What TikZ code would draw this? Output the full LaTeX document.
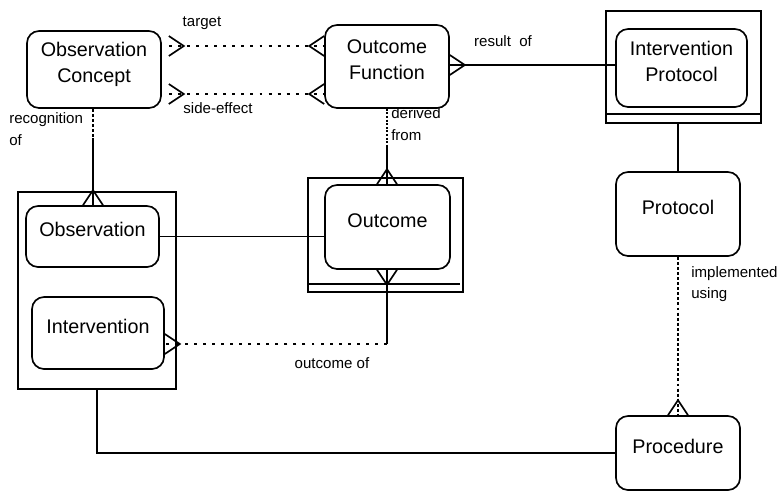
\documentclass[tikz,border=0pt]{standalone}
\usepackage{fontspec}
\setmainfont{Liberation Sans}
\usetikzlibrary{positioning,calc,decorations.markings}

\begin{document}
\begin{tikzpicture}[
  x=0.75pt,y=-0.75pt,
  font=\fontsize{11.3}{16}\selectfont,
  entity/.style={draw,line width=1.25pt,rounded corners=9pt,align=center,
    font=\fontsize{14.8}{19.5}\selectfont,inner sep=0pt,
    text height=6pt,text depth=6pt},
  twoline/.style={text height=25.6pt},
  frame/.style={draw,line width=1.25pt,inner sep=0pt},
  rel/.style={line width=1.25pt},
  dotrel/.style={line width=1.8pt,dash pattern=on 2.2pt off 4.6pt},
  finedot/.style={line width=0.8pt,dash pattern=on 1.5pt off 1.2pt},
  densedot/.style={line width=2pt,dash pattern=on 2.2pt off 1.6pt},
  crowstart/.style={postaction={decorate,decoration={markings,
    mark=at position 0 with {\draw[solid,line width=1.25pt] (0,10) -- (15,0) -- (0,-10);}}}},
  crowend/.style={postaction={decorate,decoration={markings,
    mark=at position 1 with {\draw[solid,line width=1.25pt] (0,10) -- (-15,0) -- (0,-10);}}}},
  lbl/.style={align=left,inner sep=0pt}
]
  \useasboundingbox (0,0) rectangle (779,500);

  % entities with a frame round them
  \node[frame,minimum width=116.25pt,minimum height=84pt] (ipouter) at (683.5,67) {};
  \node[frame,minimum width=118.5pt,minimum height=147.75pt] (obsouter) at (97,290.5) {};
  \node[frame,minimum width=116.25pt,minimum height=85.5pt] (outouter) at (385.5,235) {};
  \draw[rel] ($(ipouter.south west)+(0,-10)$) -- ($(ipouter.south east)+(-2,-10)$);
  \draw[rel] ($(outouter.south west)+(0,-9)$) -- ($(outouter.south east)+(-4,-9)$);

  % entities
  \node[entity,twoline,minimum width=100.5pt,minimum height=57.75pt] (obsconcept) at (94,69.5) {Observation\\Concept};
  \node[entity,twoline,minimum width=93pt,minimum height=62.25pt] (outfunc) at (387,66.5) {Outcome\\Function};
  \node[entity,twoline,minimum width=98.25pt,minimum height=58.5pt] (ipinner) at (681.5,68) {Intervention\\Protocol};
  \node[entity,minimum width=99.75pt,minimum height=45.75pt] (observation) at (92.5,236.5) {Observation};
  \node[entity,minimum width=99pt,minimum height=54pt] (intervention) at (98,333) {Intervention};
  \node[entity,minimum width=93.75pt,minimum height=63pt] (outcome) at (387.5,227) {Outcome};
  \node[entity,minimum width=93pt,minimum height=63pt] (protocol) at (678,214) {Protocol};
  \node[entity,minimum width=93pt,minimum height=55.5pt] (procedure) at (678,453) {Procedure};

  % relationships
  \coordinate (ty) at (0,46);
  \coordinate (sy) at (0,94);
  \coordinate (ry) at (0,65);
  \coordinate (df) at (387,145);
  \coordinate (rc) at (93,138);
  \coordinate (oc) at (387,344);

  \draw[dotrel,crowstart,crowend] ($(obsconcept.east |- ty)+(7,0)$) -- (outfunc.west |- ty);
  \draw[dotrel,crowstart,crowend] ($(obsconcept.east |- sy)+(7,0)$) -- (outfunc.west |- sy);
  \draw[rel,crowstart] (outfunc.east |- ry) -- (ipinner.west |- ry);
  \draw[finedot] (df |- outfunc.south) -- (df);
  \draw[rel,crowend] (df) -- (df |- outcome.north);
  \draw[densedot] (rc |- obsconcept.south) -- (rc);
  \draw[rel,crowend] (rc) -- (rc |- observation.north);
  \draw[rel] (observation.east) -- (observation.east -| outcome.west);
  \draw[rel,crowstart] (oc |- outcome.south) -- (oc);
  \draw[dotrel,crowend] (oc) -- (oc -| intervention.east);
  \draw[rel] (protocol.north |- ipouter.south) -- (protocol.north);
  \draw[densedot,crowend] (protocol.south) -- (procedure.north);
  \draw[rel] (obsouter.south) |- (procedure.west);

  % labels
  \node[lbl] (tgtlbl) at (202,23) {target};
  \node[lbl] (selbl) at (218,108) {side-effect};
  \node[lbl,anchor=west] (reclbl) at (9,129) {recognition\\of};
  \node[lbl,anchor=west] (derlbl) at (391,124) {derived\\from};
  \node[lbl] (reslbl) at (503,41) {result\ \ of};
  \node[lbl] (outlbl) at (332,363) {outcome of};
  \node[lbl,anchor=west] (implbl) at (691,284) {implemented\\using};
\end{tikzpicture}
\end{document}
